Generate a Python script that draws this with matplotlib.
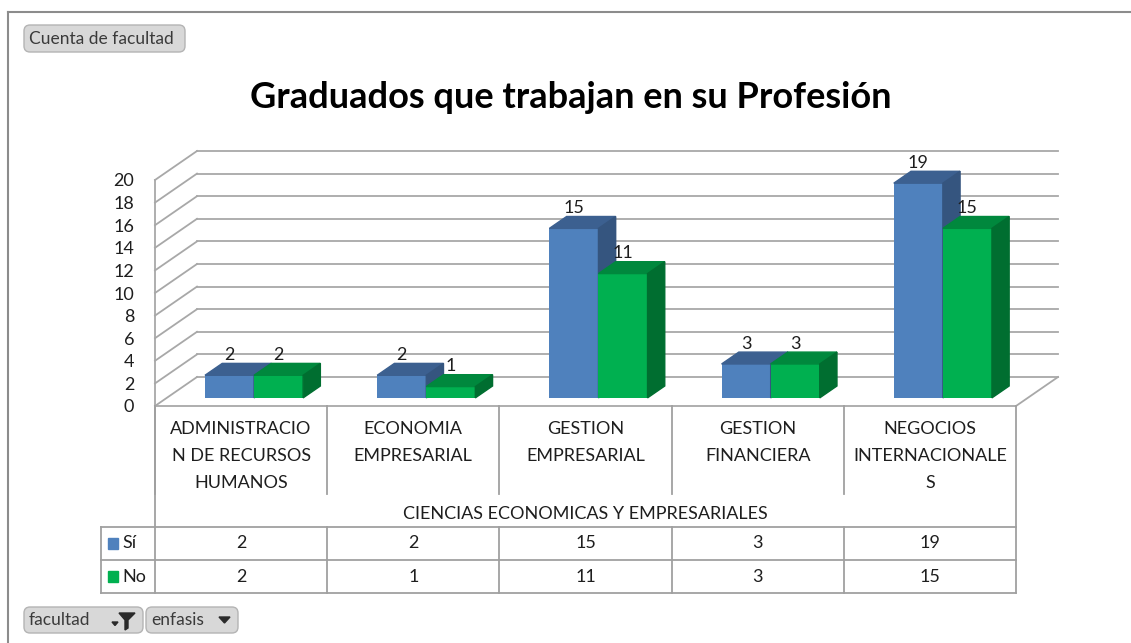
import numpy as np
import matplotlib.pyplot as plt
from matplotlib.patches import Polygon, Rectangle, FancyBboxPatch

# DATA
categorias = ['ADMINISTRACIO\nN DE RECURSOS\nHUMANOS', 'ECONOMIA\nEMPRESARIAL',
              'GESTION\nEMPRESARIAL', 'GESTION\nFINANCIERA',
              'NEGOCIOS\nINTERNACIONALE\nS']
grupo = 'CIENCIAS ECONOMICAS Y EMPRESARIALES'
series = ['Sí', 'No']
si = [2, 2, 15, 3, 19]
no = [2, 1, 11, 3, 15]
yticks = list(range(0, 21, 2))
titulo = 'Graduados que trabajan en su Profesión'

plt.rcParams['font.family'] = ['Lato', 'DejaVu Sans']
FS = 13
TXT = '#1e1e1e'

W, H = 1131, 643
fig = plt.figure(figsize=(W / 100, H / 100), dpi=100)

# front plane of the plot area, in pixels
X0, X1, Y0 = 155, 1016, 406
PPU = 11.3
CW = (X1 - X0) / 5.0
ax = fig.add_axes([X0 / W, (H - Y0) / H, (X1 - X0) / W, 20 * PPU / H])
ax.set_xlim(0, 5)
ax.set_ylim(0, 20)
for s in ax.spines.values():
    s.set_visible(False)
ax.set_xticks([])
ax.set_yticks(yticks)
ax.tick_params(axis='y', length=0, pad=15, labelsize=FS, labelcolor=TXT)
ax.patch.set_alpha(0)

# depth of the 3d box (data units)
DX = 42 / CW
DY = 29 / PPU
GRID = '#a8a8a8'

# walls and floor
ax.plot([0, 0], [0, 20], color=GRID, lw=1.3, clip_on=False)
for v in yticks:
    ax.plot([0, DX], [v, v + DY], color=GRID, lw=1.3, clip_on=False)
    ax.plot([DX, 5 + DX], [v + DY, v + DY], color=GRID, lw=1.3, clip_on=False)
ax.plot([0, 5], [0, 0], color=GRID, lw=1.3, clip_on=False)
ax.plot([5, 5 + DX], [0, DY], color=GRID, lw=1.3, clip_on=False)

# 3d bars
f0, fd = 0.28, 0.41
w = 0.285
b = f0 * DY
ddx, ddy = fd * DX, fd * DY
colores = [('#4f81bd', '#3c6090', '#35557f'), ('#00b050', '#00883d', '#006e30')]
for j, vals in enumerate([si, no]):
    front, top, side = colores[j]
    xs = np.arange(5) + 0.222 + f0 * DX + j * w
    ax.bar(xs, vals, width=w, bottom=b, align='edge', color=front,
           zorder=3 + j, clip_on=False)
    for x, v in zip(xs, vals):
        ax.add_patch(Polygon([(x, b + v), (x + w, b + v), (x + w + ddx, b + v + ddy),
                              (x + ddx, b + v + ddy)], closed=True, color=top,
                             zorder=3 + j, clip_on=False))
        ax.add_patch(Polygon([(x + w, b), (x + w + ddx, b + ddy),
                              (x + w + ddx, b + v + ddy), (x + w, b + v)],
                             closed=True, color=side, zorder=3 + j, clip_on=False))
        ax.text(x + w / 2, b + v + ddy + 0.75, str(v), ha='center', va='center',
                fontsize=FS, color=TXT, zorder=6)

# overlay in pixel coords: frame, title, table, buttons
ov = fig.add_axes([0, 0, 1, 1])
ov.set_xlim(0, W)
ov.set_ylim(H, 0)
ov.axis('off')

ov.plot([8, W], [12, 12], color='#8c8c8c', lw=1.5)
ov.plot([8, 8], [12, H], color='#8c8c8c', lw=1.5)

ov.text(571, 97, titulo, ha='center', va='center', fontsize=26,
        fontweight='bold', color='black')

TL = '#a0a0a0'
xe = [X0 + i * CW for i in range(6)]
# category block
for x in xe[:-1]:
    ov.plot([x, x], [Y0, 494], color=TL, lw=1.3)
ov.plot([X0, X0], [Y0, 593], color=TL, lw=1.3)
ov.plot([X1, X1], [Y0, 593], color=TL, lw=1.3)
for i, c in enumerate(categorias):
    for k, line in enumerate(c.split('\n')):
        ov.text(X0 + (i + 0.5) * CW, 429 + 27 * k, line, ha='center', va='center',
                fontsize=FS, color=TXT)
ov.text((X0 + X1) / 2, 514, grupo, ha='center', va='center', fontsize=FS,
        color=TXT)

# data rows
for y in [527, 560, 593]:
    ov.plot([101, X1], [y, y], color=TL, lw=1.3)
ov.plot([101, 101], [527, 593], color=TL, lw=1.3)
for x in xe[1:-1]:
    ov.plot([x, x], [527, 593], color=TL, lw=1.3)
for r, (nombre, vals) in enumerate(zip(series, [si, no])):
    yc = 543.5 + 33 * r
    ov.add_patch(Rectangle((108, yc - 5.5), 10, 11, color=colores[r][0]))
    ov.text(122, yc, nombre, ha='left', va='center', fontsize=FS, color=TXT)
    for i, v in enumerate(vals):
        ov.text(X0 + (i + 0.5) * CW, yc, str(v), ha='center', va='center',
                fontsize=FS, color=TXT)


# pivot buttons
def boton(x0, y0, x1, y1, texto):
    ov.add_patch(FancyBboxPatch((x0, y0), x1 - x0, y1 - y0,
                                boxstyle='round,pad=0,rounding_size=6',
                                fc='#d8d8d8', ec='#b4b4b4', lw=1))
    ov.text(x0 + 5, (y0 + y1) / 2, texto, ha='left', va='center',
            fontsize=12.5, color='#3a3a3a')


boton(24, 25, 185, 52, 'Cuenta de facultad')
boton(24, 607, 143, 633, 'facultad')
boton(146, 607, 238, 633, 'enfasis')
# filter funnel and dropdown marks
ov.add_patch(Polygon([(119, 613), (135, 613), (128, 620), (128, 628), (125, 630),
                      (125, 620)], closed=True, color='#2a2a2a'))
ov.add_patch(Polygon([(112, 622), (118, 622), (115, 625.5)], closed=True,
                     color='#2a2a2a'))
ov.add_patch(Polygon([(219, 617), (230, 617), (224.5, 623)], closed=True,
                     color='#2a2a2a'))

fig.savefig('out.png', dpi=100)
